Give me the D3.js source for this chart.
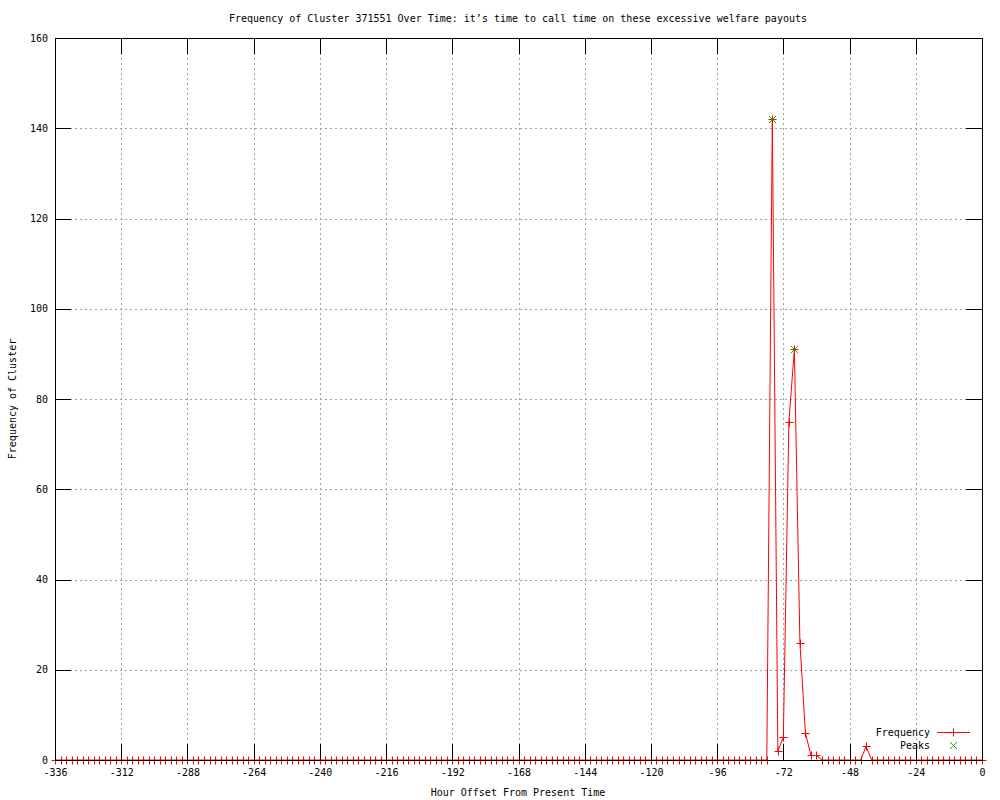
<!DOCTYPE html>
<html>
<head>
  <meta charset="UTF-8">
  <style>
    body { margin: 0; background: #fff; }
    svg { display: block; font-family: "DejaVu Sans Mono", monospace; font-size: 10px; }
    .axis path { display: none; }
    .axis line { stroke: #000; shape-rendering: crispEdges; }
    .axis text { fill: #000; font-family: "DejaVu Sans Mono", monospace; font-size: 10px; }
    .grid line { stroke: #a0a0a0; stroke-dasharray: 2,3; shape-rendering: crispEdges; }
  </style>
</head>
<body>
<svg width="1000" height="800"></svg>
<script src="https://d3js.org/d3.v7.min.js"></script>
<script>
// hours sampled every 2 h, from -336 to 0
let hours = d3.range(-336, 1, 2);
// one row = one day (12 samples)
let counts = [
  0,0,0,0,0,0,0,0,0,0,0,0,
  0,0,0,0,0,0,0,0,0,0,0,0,
  0,0,0,0,0,0,0,0,0,0,0,0,
  0,0,0,0,0,0,0,0,0,0,0,0,
  0,0,0,0,0,0,0,0,0,0,0,0,
  0,0,0,0,0,0,0,0,0,0,0,0,
  0,0,0,0,0,0,0,0,0,0,0,0,
  0,0,0,0,0,0,0,0,0,0,0,0,
  0,0,0,0,0,0,0,0,0,0,0,0,
  0,0,0,0,0,0,0,0,0,0,0,0,
  0,0,0,0,0,0,0,0,0,0,142,2,
  5,75,91,26,6,1,1,0,0,0,0,0,
  0,0,0,3,0,0,0,0,0,0,0,0,
  0,0,0,0,0,0,0,0,0,0,0,0,
  0
];
let peakHours = [-76, -68];
let peakCounts = [142, 91];
let xTicks = [-336, -312, -288, -264, -240, -216, -192, -168, -144, -120, -96, -72, -48, -24, 0];
let yTicks = [0, 20, 40, 60, 80, 100, 120, 140, 160];

let title = "Frequency of Cluster 371551 Over Time: it\u2019s time to call time on these excessive welfare payouts";

let mLeft = 55, mRight = 982, mTop = 38, mBottom = 760;
let svg = d3.select("svg");

let x = d3.scaleLinear().domain([-336, 0]).range([mLeft, mRight]);
let y = d3.scaleLinear().domain([0, 160]).range([mBottom, mTop]);

// grid
svg.append("g").attr("class", "grid")
  .selectAll("line").data(xTicks.slice(1, -1)).enter().append("line")
  .attr("x1", d => Math.round(x(d)) + 0.5).attr("x2", d => Math.round(x(d)) + 0.5)
  .attr("y1", mTop).attr("y2", mBottom);
svg.append("g").attr("class", "grid")
  .selectAll("line").data(yTicks.slice(1, -1)).enter().append("line")
  .attr("y1", d => Math.round(y(d)) + 0.5).attr("y2", d => Math.round(y(d)) + 0.5)
  .attr("x1", mLeft).attr("x2", mRight);

let data = hours.map((h, i) => ({h: h, c: counts[i]}));

// data line
let line = d3.line().x(d => x(d.h)).y(d => y(d.c));
svg.append("path").datum(data)
  .attr("d", line)
  .attr("fill", "none").attr("stroke", "#ff0000").attr("stroke-width", 1);

// + markers
let plus = svg.append("g").attr("stroke", "#ff0000").attr("stroke-width", 1);
plus.selectAll("path").data(data).enter().append("path")
  .attr("d", d => {
    let px = Math.round(x(d.h)) + 0.5, py = Math.round(y(d.c)) + 0.5;
    return "M" + (px - 4) + "," + py + "H" + (px + 4) + "M" + px + "," + (py - 4) + "V" + (py + 4);
  });

// peaks (x markers)
let peaks = peakHours.map((h, i) => ({h: h, c: peakCounts[i]}));
svg.append("g").attr("stroke", "#00c000").attr("stroke-width", 1)
  .selectAll("path").data(peaks).enter().append("path")
  .attr("d", d => {
    let px = Math.round(x(d.h)) + 0.5, py = Math.round(y(d.c)) + 0.5;
    return "M" + (px - 3.5) + "," + (py - 3.5) + "L" + (px + 3.5) + "," + (py + 3.5) +
           "M" + (px - 3.5) + "," + (py + 3.5) + "L" + (px + 3.5) + "," + (py - 3.5);
  });

// axes (inward ticks, mirrored)
svg.append("g").attr("class", "axis")
  .attr("transform", "translate(0," + mBottom + ")")
  .call(d3.axisBottom(x).tickValues(xTicks).tickSizeInner(-16).tickSizeOuter(0).tickFormat(d3.format("d")))
  .selectAll("text").attr("dy", "0.71em").attr("y", 9);
svg.append("g").attr("class", "axis")
  .attr("transform", "translate(0," + mTop + ")")
  .call(d3.axisTop(x).tickValues(xTicks).tickSizeInner(-16).tickSizeOuter(0).tickFormat(""));
svg.append("g").attr("class", "axis")
  .attr("transform", "translate(" + mLeft + ",0)")
  .call(d3.axisLeft(y).tickValues(yTicks).tickSizeInner(-16).tickSizeOuter(0).tickFormat(d3.format("d")))
  .selectAll("text").attr("x", -7);
svg.append("g").attr("class", "axis")
  .attr("transform", "translate(" + mRight + ",0)")
  .call(d3.axisRight(y).tickValues(yTicks).tickSizeInner(-16).tickSizeOuter(0).tickFormat(""));

// plain hyphen minus like gnuplot
svg.selectAll(".axis text").text(function () { return d3.select(this).text().replace("\u2212", "-"); });

// border
svg.append("rect")
  .attr("x", mLeft + 0.5).attr("y", mTop + 0.5)
  .attr("width", mRight - mLeft).attr("height", mBottom - mTop)
  .attr("fill", "none").attr("stroke", "#000").attr("shape-rendering", "crispEdges");

// titles
svg.append("text").attr("x", 518).attr("y", 22).attr("text-anchor", "middle").text(title);
svg.append("text").attr("x", 518).attr("y", 796).attr("text-anchor", "middle").text("Hour Offset From Present Time");
svg.append("text").attr("transform", "translate(16,399) rotate(-90)").attr("text-anchor", "middle").text("Frequency of Cluster");

// legend
let lg = svg.append("g");
lg.append("text").attr("x", 930).attr("y", 736).attr("text-anchor", "end").text("Frequency");
lg.append("text").attr("x", 930).attr("y", 749).attr("text-anchor", "end").text("Peaks");
lg.append("line").attr("x1", 937).attr("x2", 970).attr("y1", 732.5).attr("y2", 732.5)
  .attr("stroke", "#ff0000");
lg.append("path").attr("d", "M953.5,728.5V736.5").attr("stroke", "#ff0000");
lg.append("path").attr("d", "M950,742L957,749M950,749L957,742").attr("stroke", "#00c000");
</script>
</body>
</html>
